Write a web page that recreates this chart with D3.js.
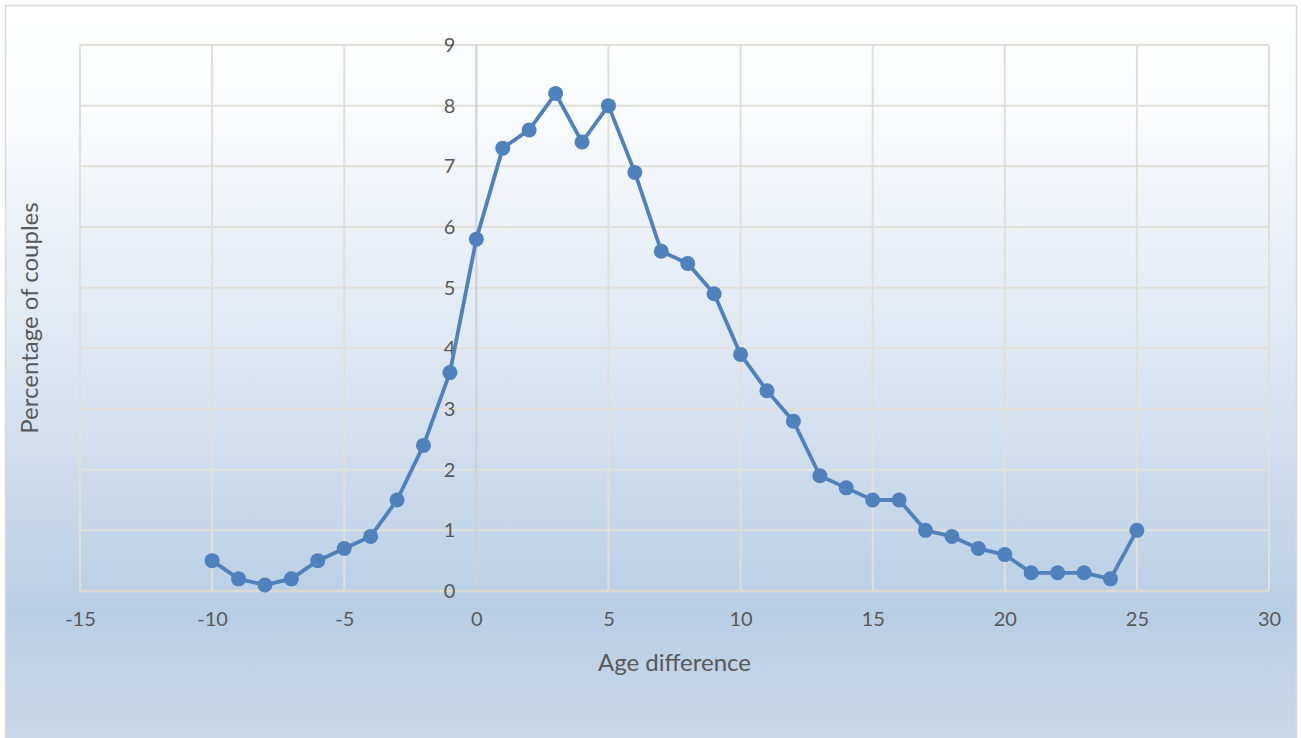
<!DOCTYPE html>
<html>
<head>
<meta charset="utf-8">
<script src="https://cdn.jsdelivr.net/npm/d3@7"></script>
<style>
html,body{margin:0;padding:0;background:#fff;}
svg{display:block;}
text{font-family:Lato,"Open Sans",sans-serif;fill:#595959;}
</style>
</head>
<body>
<svg id="chart" width="1301" height="738"></svg>
<script>
const ageDiff = [-10,-9,-8,-7,-6,-5,-4,-3,-2,-1,0,1,2,3,4,5,6,7,8,9,10,11,12,13,14,15,16,17,18,19,20,21,22,23,24,25];
const pctCouples = [0.5,0.2,0.1,0.2,0.5,0.7,0.9,1.5,2.4,3.6,5.8,7.3,7.6,8.2,7.4,8.0,6.9,5.6,5.4,4.9,3.9,3.3,2.8,1.9,1.7,1.5,1.5,1.0,0.9,0.7,0.6,0.3,0.3,0.3,0.2,1.0];
const xTicks = [-15,-10,-5,0,5,10,15,20,25,30];
const yTicks = [0,1,2,3,4,5,6,7,8,9];
const xTitle = "Age difference";
const yTitle = "Percentage of couples";

const svg = d3.select("#chart");
const W = 1301, H = 738;
const m = {left:80, right:1269, top:45, bottom:591};

const defs = svg.append("defs");
const g1 = defs.append("linearGradient").attr("id","bg").attr("x1",0).attr("y1",0).attr("x2",0).attr("y2",1);
g1.append("stop").attr("offset","0%").attr("stop-color","#ffffff");
g1.append("stop").attr("offset","15%").attr("stop-color","#f9fbfd");
g1.append("stop").attr("offset","50%").attr("stop-color","#dbe5f1");
g1.append("stop").attr("offset","82%").attr("stop-color","#b8cee5");
g1.append("stop").attr("offset","100%").attr("stop-color","#cad9ea");

svg.append("rect").attr("x",0).attr("y",0).attr("width",W).attr("height",H).attr("fill","#ffffff");
svg.append("rect").attr("x",5.5).attr("y",5.5).attr("width",1291).attr("height",740)
  .attr("fill","url(#bg)").attr("stroke","#d9d9d9").attr("stroke-width",1.5);

const x = d3.scaleLinear().domain([-15,30]).range([m.left,m.right]);
const y = d3.scaleLinear().domain([0,9]).range([m.bottom,m.top]);

// gridlines
const grid = svg.append("g");
grid.selectAll("line.h").data(yTicks.filter(d=>d>0)).join("line")
  .attr("x1",m.left).attr("x2",m.right)
  .attr("y1",d=>y(d)).attr("y2",d=>y(d))
  .attr("stroke","#e2dfd9").attr("stroke-width",2);
grid.selectAll("line.v").data(xTicks).join("line")
  .attr("y1",m.top).attr("y2",m.bottom)
  .attr("x1",d=>x(d)).attr("x2",d=>x(d))
  .attr("stroke",d=>d===0?"#d0d0d0":"#e2dfd9").attr("stroke-width",2);
svg.append("line").attr("x1",m.left).attr("x2",m.right).attr("y1",y(0)).attr("y2",y(0))
  .attr("stroke","#dcd8d2").attr("stroke-width",2.5);

const fmt = d => String(d);
const xAxis = d3.axisBottom(x).tickValues(xTicks).tickSize(0).tickPadding(0).tickFormat(fmt);
const gx = svg.append("g").attr("transform",`translate(0,${m.bottom+21})`).call(xAxis);
gx.select(".domain").remove();
gx.selectAll("text").attr("font-size",20).attr("dy","0.71em").style("font-family","Lato,'Open Sans',sans-serif").attr("fill","#595959");

const yAxis = d3.axisLeft(y).tickValues(yTicks).tickSize(0).tickPadding(0).tickFormat(fmt);
const gy = svg.append("g").attr("transform",`translate(${x(0)-21},0)`).call(yAxis);
gy.select(".domain").remove();
gy.selectAll("text").attr("font-size",20).style("font-family","Lato,'Open Sans',sans-serif").attr("fill","#595959");

svg.append("text").attr("x",(m.left+m.right)/2).attr("y",671).attr("text-anchor","middle")
  .attr("font-size",24).text(xTitle);
svg.append("text").attr("transform",`translate(38,${(m.top+m.bottom)/2}) rotate(-90)`)
  .attr("text-anchor","middle").attr("font-size",24).text(yTitle);

const data = ageDiff.map((a,i)=>({a, v:pctCouples[i]}));
const color = "#4f81bd";
svg.append("path").datum(data)
  .attr("fill","none").attr("stroke",color).attr("stroke-width",3.8).attr("stroke-linejoin","round")
  .attr("d", d3.line().x(d=>x(d.a)).y(d=>y(d.v)));
svg.append("g").selectAll("circle").data(data).join("circle")
  .attr("cx",d=>x(d.a)).attr("cy",d=>y(d.v)).attr("r",7.5).attr("fill",color);
</script>
</body>
</html>
